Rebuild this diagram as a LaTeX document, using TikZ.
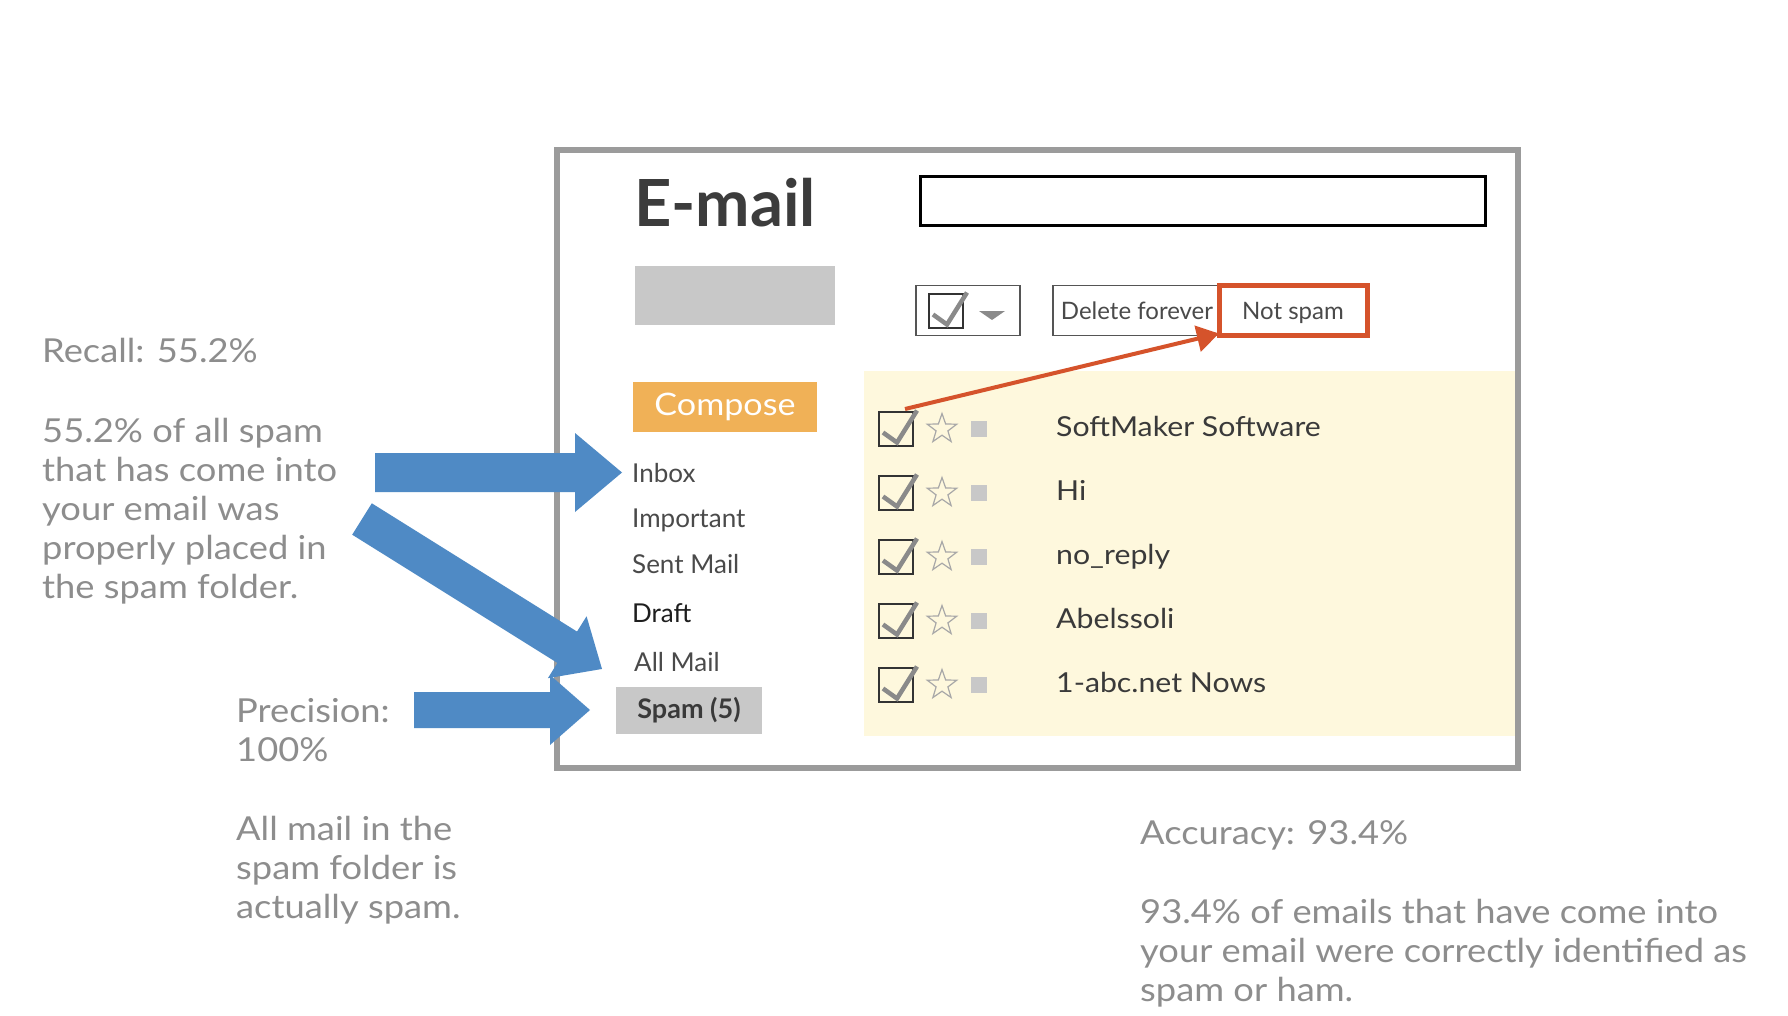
\documentclass[tikz,border=0pt]{standalone}
\usepackage{fontspec}
\setmainfont{Lato}
\newfontfamily\notefont[FakeStretch=1.1]{Lato}
\usetikzlibrary{arrows.meta,shapes.geometric}
\definecolor{notegray}{HTML}{8D8D8D}
\definecolor{menugray}{HTML}{4A4A4A}
\definecolor{draftblack}{HTML}{1E1E1E}
\definecolor{nametext}{HTML}{3A3A3A}
\definecolor{titlegray}{HTML}{3C3C3C}
\definecolor{framegray}{HTML}{9B9B9B}
\definecolor{blockgray}{HTML}{C8C8C8}
\definecolor{composeorange}{HTML}{F0B157}
\definecolor{listbg}{HTML}{FEF8DD}
\definecolor{arrowblue}{HTML}{4F8AC5}
\definecolor{alertred}{HTML}{D5532B}
\definecolor{tickgray}{HTML}{8A8A8A}
\definecolor{tickline}{HTML}{333333}
\definecolor{stargray}{HTML}{A8A8A8}
\definecolor{boxline}{HTML}{555555}
\begin{document}
\begin{tikzpicture}[x=1pt,y=-1pt,
  note/.style={inner sep=0pt, text=notegray, font=\notefont\fontsize{33}{39}\selectfont, align=left, anchor=base west},
  menu/.style={inner sep=0pt, text=menugray, font=\fontsize{26}{30}\selectfont, anchor=base west},
  uibox/.style={draw=boxline, line width=1.5pt, inner sep=0pt, outer sep=0pt},
  btntext/.style={text=menugray, font=\fontsize{24}{28}\selectfont, text height=20pt, text depth=2pt},
  tickbox/.style={draw=tickline, line width=1.4pt, minimum size=34pt, inner sep=0pt, outer sep=0pt},
  tick/.style={draw=tickgray, line width=4.5pt}]
\fill[white] (0,0) rectangle (1788,1016);
\useasboundingbox (0,0) rectangle (1788,1016);
% mail window
\fill[listbg] (864,371) rectangle (1515,736);
\draw[framegray, line width=6pt] (557,150) rectangle (1518,768);
\node[anchor=base west, inner sep=0pt, text=titlegray, font=\fontsize{65}{70}\selectfont\bfseries] (title) at (634,227) {E-mail};
\node[draw=black, line width=3pt, minimum width=565pt, minimum height=49pt, inner sep=0pt] (search) at (1202.5,201.5) {};
\node[fill=blockgray, minimum width=200pt, minimum height=59pt, inner sep=0pt] (acct) at (735,295.5) {};
% toolbar
\node[uibox, minimum width=104pt, minimum height=50pt] (selbox) at (968,310.5) {};
\node[tickbox] (selchk) at (946,311) {};
\draw[tick] (933,314.5) -- (947,324.5) -- (967,292.5);
\fill[tickgray] (979,311) -- (1005,311) -- (992,320) -- cycle;
\node[uibox, btntext, minimum width=168pt, minimum height=50pt] (delbtn) at (1137,310.5) {Delete forever};
\node[draw=alertred, line width=5pt, fill=white, minimum width=148pt, minimum height=50pt, inner sep=0pt, outer sep=0pt, btntext] (notspam) at (1293,310.5) {Not spam};
% folders
\node[fill=composeorange, minimum width=184pt, minimum height=50pt, inner sep=0pt, text=white, font=\notefont\fontsize{31}{36}\selectfont] (compose) at (725,407) {Compose};
\node[menu] (inbox) at (632,482) {Inbox};
\node[menu] (important) at (632,527) {Important};
\node[menu] (sent) at (632,573) {Sent Mail};
\node[menu, text=draftblack] (draft) at (632,622) {Draft};
\node[menu] (allmail) at (634,671) {All Mail};
\node[fill=blockgray, minimum width=146pt, minimum height=47pt, inner sep=0pt, text=nametext, font=\fontsize{27}{30}\selectfont\bfseries] (spam) at (689,710.5) {Spam (5)};
% mails
\foreach \name [count=\i] in {SoftMaker Software,Hi,no\_reply,Abelssoli,1-abc.net Nows}{
  \pgfmathsetmacro{\ry}{365+64*\i}
  \node[tickbox] (chk\i) at (896,\ry) {};
  \draw[tick] (883,\ry+3.5) -- (897,\ry+13.5) -- (917,\ry-18.5);
  \node[star, star points=5, star point ratio=2.5, draw=stargray, line width=1.2pt, minimum size=31pt, inner sep=0pt] (star\i) at (942,\ry) {};
  \node[fill=blockgray, minimum size=16pt, inner sep=0pt] (sq\i) at (979,\ry) {};
  \node[anchor=base west, inner sep=0pt, text=nametext, font=\notefont\fontsize{27.5}{30}\selectfont] (from\i) at (1056,\ry+7) {\name};
}
\draw[alertred, line width=4pt, -{Triangle[length=22pt,width=26pt]}] ([xshift=-8pt,yshift=3pt]chk1.north east) -- ([yshift=2pt]notspam.south west);
% block arrows
\foreach \sx/\sy/\rot/\len/\hl/\sw/\hw in {375/472.5/0/247/47/19.5/39.5, 362/519/-32/283/41/18.5/36.5, 414/710/0/176/40/18/35}
  \fill[arrowblue, shift={(\sx,\sy)}, rotate=\rot] (0,-\sw) -- (\len-\hl,-\sw) -- (\len-\hl,-\hw) -- (\len,0) -- (\len-\hl,\hw) -- (\len-\hl,\sw) -- (0,\sw) -- cycle;
% notes (multi-line nodes sit on their last line)
\node[note] (recall) at (42,362) {Recall: 55.2\%};
\node[note] (recalltxt) at (42,598) {55.2\% of all spam\\that has come into\\your email was\\properly placed in\\the spam folder.};
\node[note] (prec) at (236,761) {Precision:\\100\%};
\node[note] (prectxt) at (236,918) {All mail in the\\spam folder is\\actually spam.};
\node[note] (acc) at (1140,844) {Accuracy: 93.4\%};
\node[note] (acctxt) at (1140,1001) {93.4\% of emails that have come into\\your email were correctly identified as\\spam or ham.};
\end{tikzpicture}
\end{document}
